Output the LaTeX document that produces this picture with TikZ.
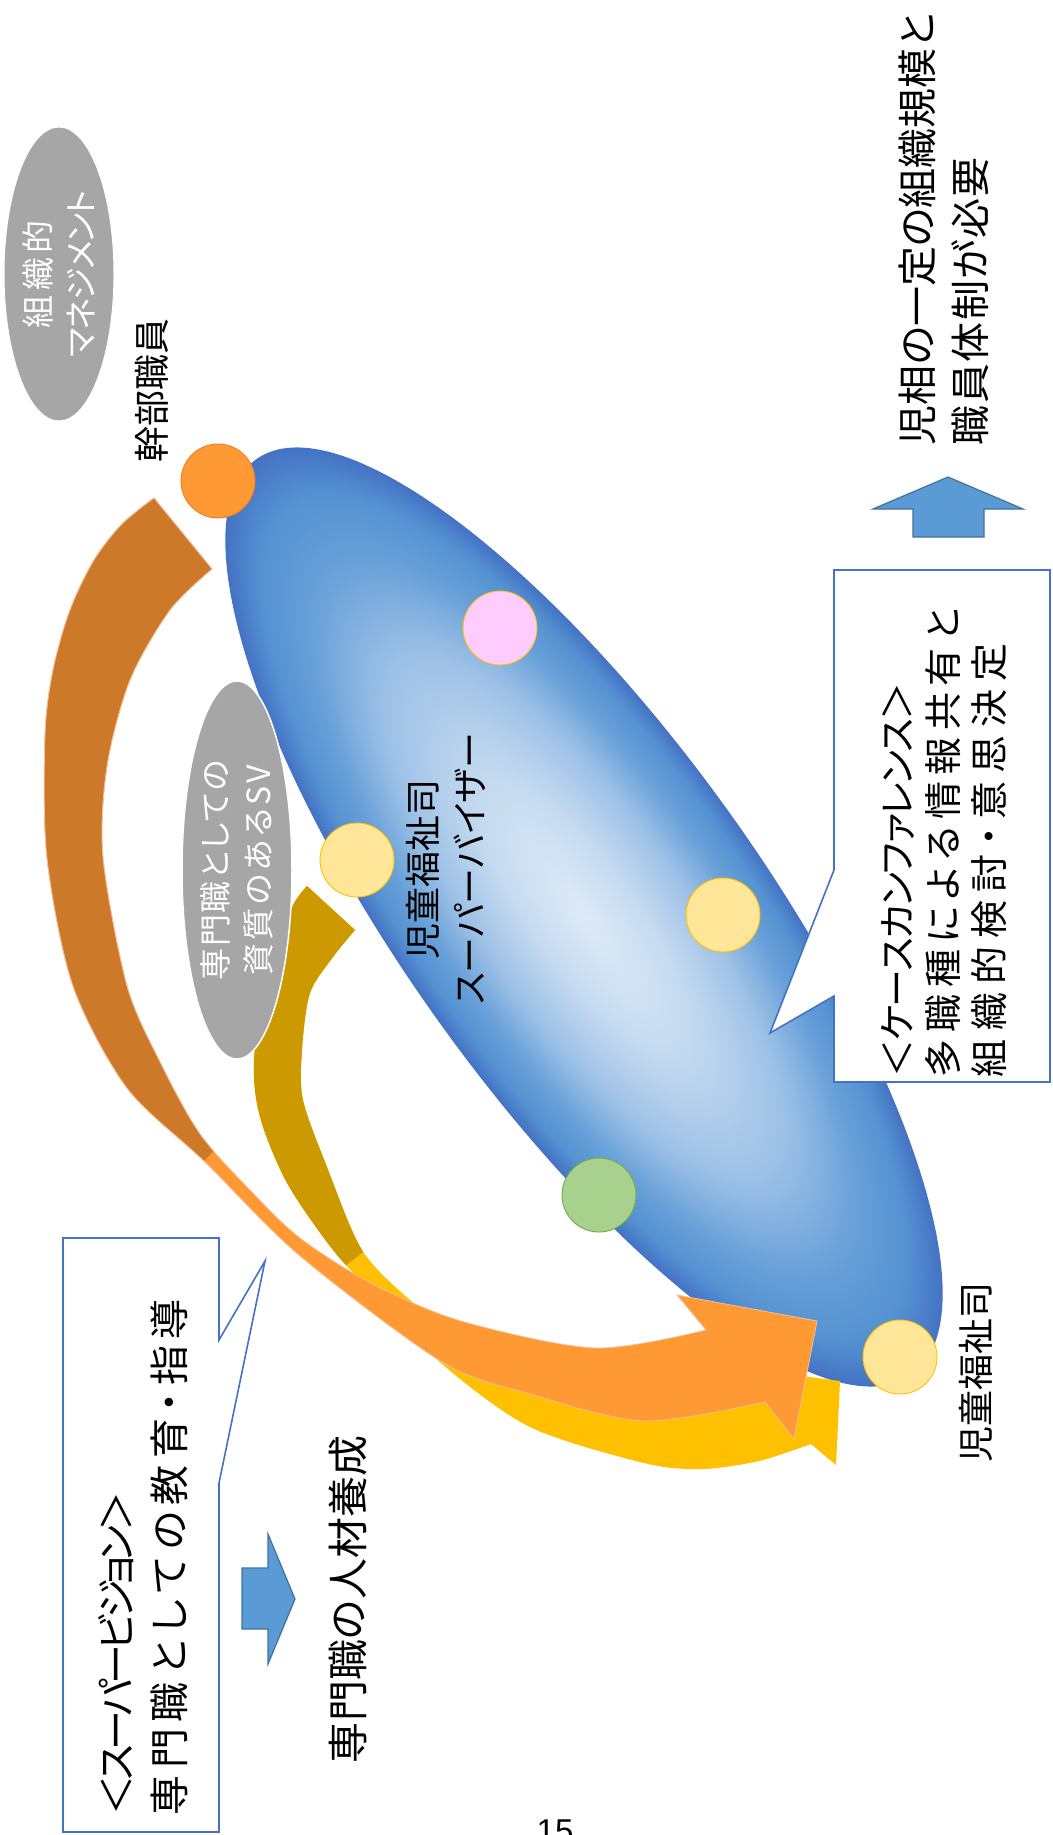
\documentclass[tikz,border=0pt]{standalone}
\usepackage{fontspec}
\newfontfamily\jpf[RawFeature=+palt]{Noto Sans CJK JP}
\newfontfamily\arialf{Liberation Sans}
\definecolor{eCa}{HTML}{DEEAF6}
\definecolor{eCb}{HTML}{C6DBF0}
\definecolor{eCc}{HTML}{9CC0E6}
\definecolor{eCd}{HTML}{68A0D8}
\definecolor{eCe}{HTML}{5592D2}
\definecolor{eCf}{HTML}{4472C4}
\definecolor{orangeF}{HTML}{FF9933}
\definecolor{orangeL}{HTML}{F8C09A}
\definecolor{brownB}{HTML}{CC7A29}
\definecolor{yellowF}{HTML}{FFC000}
\definecolor{goldB}{HTML}{CC9A00}
\definecolor{blueA}{HTML}{5B9BD5}
\definecolor{blueAL}{HTML}{41719C}
\definecolor{boxB}{HTML}{4472C4}
\definecolor{grayE}{HTML}{A6A6A6}
\definecolor{circO}{HTML}{FF9933}
\definecolor{circOL}{HTML}{ED7D31}
\definecolor{circP}{HTML}{FFCCFF}
\definecolor{circY}{HTML}{FFE699}
\definecolor{circYL}{HTML}{FFC000}
\definecolor{circG}{HTML}{A9D18E}
\definecolor{circGL}{HTML}{70AD47}
\pgfdeclareradialshading{bigell}{\pgfpoint{0bp}{0bp}}{color(0bp)=(eCa); color(7bp)=(eCb); color(14bp)=(eCc); color(19bp)=(eCd); color(22.5bp)=(eCe); color(25bp)=(eCf); color(50bp)=(eCf)}
\makeatletter
\def\jspread#1#2{\makebox[#1][s]{\jsp@first#2\relax}}
\def\jsp@first#1{#1\jsp@loop}
\def\jsp@loop#1{\ifx#1\relax\else\hskip0pt plus1fil minus1fil\relax#1\expandafter\jsp@loop\fi}
\makeatother
\newcommand\jfs[2]{\jpf\fontsize{#1pt}{#2pt}\selectfont}
\newcommand\oArrowPath{(154,498) -- plot[smooth] coordinates {(154,498) (122,524) (94,560) (70,610) (53,670) (45,736) (47,858) (73,986) (127,1088) (205,1162) (300,1256) (442,1362) (530,1394) (644,1421) (765,1402)} -- (794,1439) -- (817,1321) -- (677,1295) -- plot[smooth] coordinates {(706,1330) (595,1348) (461,1321) (371,1283) (300,1238) (250,1190) (200,1134) (160,1062) (127,986) (103,858) (107,766) (130,680) (170,610) (212,569)} -- cycle}
\newcommand\yArrowPath{(307,886) -- plot[smooth] coordinates {(307,886) (292,907) (267,967) (254,1060) (260,1117) (287,1183) (333,1250) (375,1295) (442,1364) (530,1427) (644,1463) (702,1469) (759,1461) (811,1444)} -- (836,1465) -- (840,1381) -- (717,1365) -- plot[smooth] coordinates {(750,1393) (650,1398) (560,1378) (470,1345) (410,1300) (362,1250) (327,1167) (303,1100) (302,1050) (310,993) (333,957) (355,930)} -- cycle}
\begin{document}
\begin{tikzpicture}[x=1pt,y=-1pt,
  txt/.style={inner sep=0pt, outer sep=0pt},
  vtxt/.style={txt, rotate=90},
  dot/.style={circle, minimum size=74pt, inner sep=0pt, line width=0.9pt},
  calloutbox/.style={draw=boxB, line width=1.6pt, fill=white, line join=miter},
  blockarrow/.style={fill=blueA, draw=blueAL, line width=1.2pt}]
\useasboundingbox (0,0) rectangle (1052,1835);
\clip (0,0) rectangle (1052,1835);
\fill[white] (0,0) rectangle (1052,1835);

% big shaded ellipse
\begin{scope}[transform canvas={shift={(584,917)},rotate=-54.4}]
\shade[shading=bigell] (0,0) ellipse [x radius=563pt, y radius=179pt];
\end{scope}

% yellow / gold curved arrow
\fill[yellowF] \yArrowPath;
\begin{scope}
\clip (830,902) -- (30,1502) -- (-10,1502) -- (-10,-10) -- (830,-10) -- cycle;
\fill[goldB] \yArrowPath;
\end{scope}

% orange / brown curved arrow
\fill[orangeF, draw=orangeL, line width=0.8pt] \oArrowPath;
\begin{scope}
\clip (712,660) -- (-69,1430) -- (-69,-10) -- (712,-10) -- cycle;
\fill[brownB, draw=orangeL, line width=0.8pt] \oArrowPath;
\end{scope}

% circles
\node[dot, fill=circO, draw=circOL] (kanbu) at (218,481) {};
\node[dot, fill=circP, draw=circYL] (pink) at (500,628) {};
\node[dot, fill=circY, draw=circYL] (yl) at (357,860) {};
\node[dot, fill=circY, draw=circYL] (yr) at (723,915) {};
\node[dot, fill=circG, draw=circGL] (gr) at (599,1195) {};
\node[dot, fill=circY, draw=circYL] (ybr) at (900,1357) {};

% gray ellipses
\fill[grayE, draw=white, line width=1pt] (59,274) ellipse [x radius=55pt, y radius=147pt];
\node[vtxt, align=center, text=white, font=\jfs{33}{43}] (mgmt) at (59,274) {\jspread{108pt}{組織的}\\\jspread{168pt}{マネジメント}};
\fill[grayE, draw=white, line width=1.5pt] (237,870) ellipse [x radius=55pt, y radius=189pt];
\node[vtxt, align=center, text=white, font=\jfs{32}{43}] (sv) at (237,870) {\jspread{220pt}{専門職としての}\\\jspread{210pt}{資質のあるSV}};

% right callout
\coordinate (rtip) at (770,1033);
\draw[calloutbox] (834,570) -- (1050,570) -- (1050,1082) -- (834,1082) -- (834,996) -- (rtip) -- (834,870) -- cycle;
\node[vtxt, anchor=west, align=left, font=\jfs{38}{46}] (cc) at (944,1077) {\jspread{395pt}{＜ケースカンファレンス＞}\\\jspread{469pt}{多職種による情報共有と}\\\jspread{434pt}{組織的検討・意思決定}};

% left callout
\coordinate (ltip) at (265,1261);
\draw[calloutbox] (63,1238) -- (219,1238) -- (219,1340) -- (ltip) -- (219,1483) -- (219,1832) -- (63,1832) -- cycle;
\node[vtxt, anchor=west, align=left, font=\jfs{40}{53}] (svtxt) at (143.5,1815) {\jspread{324pt}{＜スーパービジョン＞}\\\jspread{516pt}{専門職としての教育・指導}};

% block arrows
\draw[blockarrow] (948,477) -- (1023,509) -- (984,509) -- (984,537) -- (913,537) -- (913,509) -- (873,509) -- cycle;
\draw[blockarrow] (242,1568) -- (268,1568) -- (268,1534) -- (295,1599) -- (268,1664) -- (268,1629) -- (242,1629) -- cycle;

% labels
\node[vtxt, anchor=west, align=left, font=\jfs{40}{53}] (need) at (943.5,445) {\jspread{432pt}{児相の一定の組織規模と}\\\jspread{288pt}{職員体制が必要}};
\node[vtxt, font=\jfs{36}{44}] (kanbulab) at (152,390) {幹部職員};
\node[vtxt, align=center, font=\jfs{36}{47}] (bigl) at (446,869) {児童福祉司\\スーパーバイザー};
\node[vtxt, font=\jfs{36}{44}] (jidou) at (976,1372) {児童福祉司};
\node[vtxt, font=\jfs{41}{50}] (jinzai) at (348,1599) {\jspread{328pt}{専門職の人材養成}};
\node[txt, anchor=north, font=\arialf\fontsize{33pt}{40pt}\selectfont] (pg) at (555,1820) {15};
\end{tikzpicture}
\end{document}
